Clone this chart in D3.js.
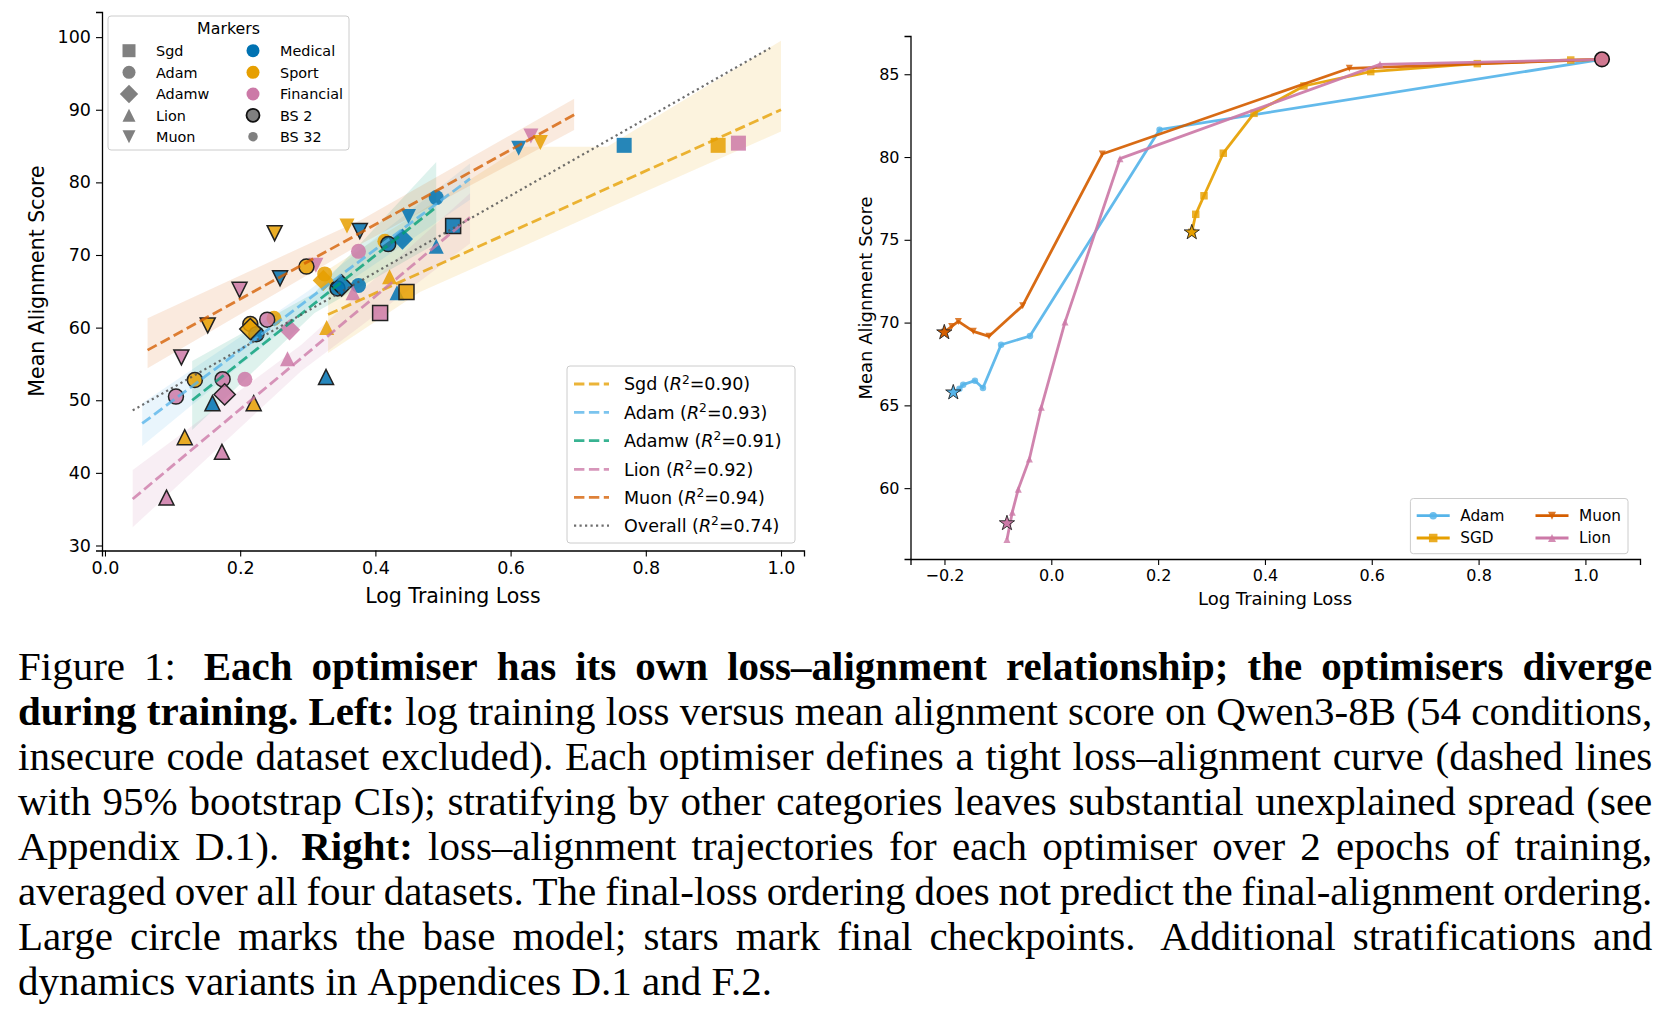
<!DOCTYPE html>
<html><head><meta charset="utf-8">
<script src="https://cdn.jsdelivr.net/npm/d3@7"></script>
<style>
html,body{margin:0;padding:0;background:#fff;}
svg{display:block;}
text{font-family:"DejaVu Sans",sans-serif;fill:#000;}
</style></head><body>
<svg id="fig" width="1664" height="1014"></svg>
<script>
// ---------------- DATA ----------------
const optimisers = ["Sgd","Adam","Adamw","Lion","Muon"];
const optimiserMarkers = ["s","o","D","^","v"];
const datasets = ["Medical","Sport","Financial"];
const datasetColors = ["#0072B2","#E69F00","#CC79A7"];
const batchLabels = ["BS 2","BS 32"];
const leftXTicks = [0,0.2,0.4,0.6,0.8,1.0];
const leftYTicks = [30,40,50,60,70,80,90,100];
const rightXTicks = [-0.2,0,0.2,0.4,0.6,0.8,1.0];
const rightYTicks = [60,65,70,75,80,85];

// [optimiser, dataset, batch size, log training loss, mean alignment score]
const conditions = [
 ["Sgd","Medical",32,0.768,85.1],["Sgd","Sport",32,0.907,85.1],["Sgd","Financial",32,0.937,85.4],
 ["Sgd","Medical",2,0.515,74.0],["Sgd","Sport",2,0.446,64.9],["Sgd","Financial",2,0.407,62.0],
 ["Muon","Medical",32,0.612,84.7],["Muon","Financial",32,0.630,86.4],["Muon","Sport",32,0.644,85.5],
 ["Muon","Medical",32,0.449,75.3],["Muon","Sport",32,0.358,74.0],["Muon","Financial",32,0.312,68.6],
 ["Muon","Medical",2,0.377,73.3],["Muon","Sport",2,0.251,73.0],["Muon","Medical",2,0.259,66.8],
 ["Muon","Financial",2,0.199,65.2],["Muon","Sport",2,0.152,60.3],["Muon","Financial",2,0.113,55.9],
 ["Adam","Medical",32,0.490,77.9],["Adam","Sport",32,0.325,67.4],["Adam","Medical",32,0.375,65.8],
 ["Adam","Financial",32,0.375,70.5],["Adam","Sport",32,0.414,71.9],["Adam","Financial",32,0.207,52.9],
 ["Adam","Sport",32,0.250,61.3],
 ["Adam","Sport",2,0.298,68.4],["Adam","Medical",2,0.344,65.4],["Adam","Medical",2,0.419,71.5],
 ["Adam","Financial",2,0.105,50.5],["Adam","Sport",2,0.133,52.8],["Adam","Financial",2,0.174,52.9],
 ["Adam","Sport",2,0.215,60.5],["Adam","Medical",2,0.224,59.1],["Adam","Financial",2,0.240,61.1],
 ["Adamw","Sport",32,0.323,66.5],["Adamw","Medical",32,0.440,72.2],["Adamw","Financial",32,0.273,59.7],
 ["Adamw","Medical",2,0.350,65.8],["Adamw","Financial",2,0.177,50.8],["Adamw","Sport",2,0.215,59.8],
 ["Lion","Sport",32,0.421,67.0],["Lion","Medical",32,0.432,64.8],["Lion","Financial",32,0.367,64.8],
 ["Lion","Medical",32,0.490,71.2],["Lion","Sport",32,0.328,60.0],["Lion","Financial",32,0.270,55.7],
 ["Lion","Medical",2,0.327,53.2],["Lion","Sport",2,0.220,49.6],["Lion","Medical",2,0.159,49.6],
 ["Lion","Sport",2,0.118,44.9],["Lion","Financial",2,0.173,42.9],["Lion","Financial",2,0.091,36.6]
];

// regression fits
const fitNames = ["Sgd","Adam","Adamw","Lion","Muon","Overall"];
const fitColors = ["#E69F00","#56B4E9","#009E73","#CC79A7","#D55E00","#555555"];
const fitR2 = ["0.90","0.93","0.91","0.92","0.94","0.74"];
const fitStart = [[0.33,61.8],[0.055,46.8],[0.129,50.0],[0.041,36.4],[0.063,56.9],[0.041,48.6]];
const fitEnd = [[1.0,90.0],[0.54,80.5],[0.49,76.6],[0.54,75.2],[0.694,89.3],[0.984,98.5]];
// 95% bootstrap CI bands: [x, lower, upper]
const bandSgd = [[0.33,56.5,68.0],[0.466,64.9,76.0],[0.584,69.8,83.0],[0.614,71.0,84.9],[0.743,76.4,84.9],[1.0,87.0,99.5]];
const bandAdam = [[0.055,43.7,49.6],[0.30,62.5,65.0],[0.54,77.6,82.6]];
const bandAdamw = [[0.129,45.9,55.4],[0.31,62.0,64.8],[0.49,71.6,82.8]];
const bandLion = [[0.041,32.5,40.4],[0.29,54.0,57.6],[0.54,71.6,78.5]];
const bandMuon = [[0.063,54.4,61.3],[0.38,71.6,74.9],[0.694,87.2,91.5]];

// right panel trajectories (base model -> final checkpoint)
const trajNames = ["Adam","SGD","Muon","Lion"];
const trajColors = ["#56B4E9","#E69F00","#D55E00","#CC79A7"];
const trajMarkers = ["o","s","v","^"];
const trajAdam = [[1.031,85.9],[0.2027,81.65],[-0.040,69.19],[-0.094,68.66],[-0.128,66.05],[-0.143,66.49],[-0.165,66.25],[-0.172,66.0],[-0.1835,65.78]];
const trajSgd = [[1.031,85.9],[0.9725,85.86],[0.7976,85.64],[0.598,85.16],[0.473,84.29],[0.3795,82.64],[0.322,80.23],[0.2859,77.66],[0.2704,76.54],[0.263,75.45]];
const trajMuon = [[1.031,85.9],[0.558,85.36],[0.0955,80.18],[-0.0536,71.02],[-0.1166,69.17],[-0.146,69.47],[-0.174,70.07],[-0.1865,69.77],[-0.2003,69.41]];
const trajLion = [[1.031,85.9],[0.6154,85.6],[0.1286,79.9],[0.0257,70.03],[-0.0187,64.88],[-0.041,61.76],[-0.0618,59.94],[-0.073,58.55],[-0.083,56.9]];
const finalStars = [[-0.1835,65.78],[0.263,75.45],[-0.2003,69.41],[-0.083,57.88]];
const baseModel = [1.031,85.9];

const captionLines = [
 "Figure 1:  **Each optimiser has its own loss–alignment relationship; the optimisers diverge**",
 "**during training. Left:** log training loss versus mean alignment score on Qwen3-8B (54 conditions,",
 "insecure code dataset excluded). Each optimiser defines a tight loss–alignment curve (dashed lines",
 "with 95% bootstrap CIs); stratifying by other categories leaves substantial unexplained spread (see",
 "Appendix D.1).  **Right:** loss–alignment trajectories for each optimiser over 2 epochs of training,",
 "averaged over all four datasets. The final-loss ordering does not predict the final-alignment ordering.",
 "Large circle marks the base model; stars mark final checkpoints.  Additional stratifications and",
 "dynamics variants in Appendices D.1 and F.2."
];

// ---------------- HELPERS ----------------
const svg = d3.select("#fig");
function mplPath(kind, s){
  const h = s/2;
  if(kind==="s") return `M${-h},${-h}H${h}V${h}H${-h}Z`;
  if(kind==="o"){ const p=d3.path(); p.arc(0,0,h,0,2*Math.PI); p.closePath(); return p.toString(); }
  if(kind==="D"){ const d=s/Math.SQRT2; return `M0,${-d}L${d},0L0,${d}L${-d},0Z`; }
  if(kind==="^") return `M0,${-h}L${h},${h}L${-h},${h}Z`;
  if(kind==="v") return `M0,${h}L${h},${-h}L${-h},${-h}Z`;
  if(kind==="*"){
    let pts=[];
    for(let i=0;i<10;i++){ const r=i%2?h*0.381966:h; const a=-Math.PI/2+i*Math.PI/5; pts.push([r*Math.cos(a),r*Math.sin(a)]); }
    return "M"+pts.map(p=>p[0].toFixed(2)+","+p[1].toFixed(2)).join("L")+"Z";
  }
}
function styleAxis(g, fs){
  g.select(".domain").attr("stroke","#000").attr("stroke-width",1.3);
  g.selectAll(".tick line").attr("stroke","#000").attr("stroke-width",1.1);
  g.selectAll(".tick text").attr("font-size",fs).attr("fill","#000").style("font-family","DejaVu Sans");
}
function r2Label(sel, name, r2, fs){
  sel.append("tspan").text(name+" (");
  sel.append("tspan").attr("font-style","italic").text("R");
  sel.append("tspan").attr("font-size",fs*0.7).attr("dy",-fs*0.38).text("2");
  sel.append("tspan").attr("dy",fs*0.38).text("="+r2+")");
}

// ---------------- LEFT PANEL ----------------
const xL = d3.scaleLinear().domain([-0.0044,1.034]).range([102,804]);
const yL = d3.scaleLinear().domain([29.31,103.46]).range([550.5,12]);
const gL = svg.append("g");

const bands = [bandSgd,bandAdam,bandAdamw,bandLion,bandMuon];
const bandArea = d3.area().x(d=>xL(d[0])).y0(d=>yL(d[1])).y1(d=>yL(d[2]));
bands.forEach((b,i)=>{
  gL.append("path").attr("d",bandArea(b)).attr("fill",fitColors[i]).attr("fill-opacity",0.13);
});

// points: BS 32 first, then BS 2
const ptsSorted = conditions.slice().sort((a,b)=>b[2]-a[2]);
gL.selectAll("path.pt").data(ptsSorted).join("path").attr("class","pt")
  .attr("d",d=>mplPath(optimiserMarkers[optimisers.indexOf(d[0])],15))
  .attr("transform",d=>`translate(${xL(d[3])},${yL(d[4])})`)
  .attr("fill",d=>datasetColors[datasets.indexOf(d[1])])
  .attr("fill-opacity",0.85)
  .attr("stroke",d=>d[2]===2?"#222":"none")
  .attr("stroke-width",1.5);

fitNames.forEach((n,i)=>{
  const isOverall = n==="Overall";
  gL.append("line")
    .attr("x1",xL(fitStart[i][0])).attr("y1",yL(fitStart[i][1]))
    .attr("x2",xL(fitEnd[i][0])).attr("y2",yL(fitEnd[i][1]))
    .attr("stroke",fitColors[i]).attr("stroke-opacity",isOverall?0.85:0.78)
    .attr("stroke-width",isOverall?2.2:2.8)
    .attr("stroke-dasharray",isOverall?"2.2 3.3":"10.4 4.5");
});

const axLX = gL.append("g").attr("transform","translate(0,550.5)")
  .call(d3.axisBottom(xL).tickValues(leftXTicks).tickFormat(d3.format(".1f")).tickSizeOuter(0).tickSize(6).tickPadding(5));
styleAxis(axLX,17.5);
const axLY = gL.append("g").attr("transform","translate(102,0)")
  .call(d3.axisLeft(yL).tickValues(leftYTicks).tickFormat(d3.format("d")).tickSizeOuter(0).tickSize(6).tickPadding(5));
styleAxis(axLY,17.5);
gL.append("text").attr("x",453).attr("y",603).attr("text-anchor","middle").attr("font-size",20.5).text("Log Training Loss");
gL.append("text").attr("transform","translate(44,281) rotate(-90)").attr("text-anchor","middle").attr("font-size",20.5).text("Mean Alignment Score");

// Markers legend
const lg1 = gL.append("g");
lg1.append("rect").attr("x",108).attr("y",16).attr("width",241).attr("height",134).attr("rx",3)
  .attr("fill","#fff").attr("fill-opacity",0.8).attr("stroke","#cccccc").attr("stroke-width",1);
lg1.append("text").attr("x",228.5).attr("y",33.5).attr("text-anchor","middle").attr("font-size",15.8).text("Markers");
const rowY = [50.7,72.3,94,115.3,136.7];
optimisers.forEach((o,i)=>{
  lg1.append("path").attr("d",mplPath(optimiserMarkers[i],13)).attr("transform",`translate(129,${rowY[i]})`).attr("fill","#808080");
  lg1.append("text").attr("x",156).attr("y",rowY[i]+5.2).attr("font-size",14.4).text(o);
});
const col2 = datasets.map((d,i)=>({label:d,color:datasetColors[i],size:13,stroke:"none"}))
  .concat([{label:batchLabels[0],color:"#808080",size:13,stroke:"#111"},{label:batchLabels[1],color:"#808080",size:9.5,stroke:"none"}]);
col2.forEach((c,i)=>{
  lg1.append("path").attr("d",mplPath("o",c.size)).attr("transform",`translate(253,${rowY[i]})`)
    .attr("fill",c.color).attr("stroke",c.stroke).attr("stroke-width",1.8);
  lg1.append("text").attr("x",280).attr("y",rowY[i]+5.2).attr("font-size",14.4).text(c.label);
});

// R2 legend
const lg2 = gL.append("g");
lg2.append("rect").attr("x",567).attr("y",366).attr("width",228).attr("height",177).attr("rx",3)
  .attr("fill","#fff").attr("fill-opacity",0.8).attr("stroke","#cccccc").attr("stroke-width",1);
const r2Y = [384,412.3,440.7,469.3,497.3,525.7];
fitNames.forEach((n,i)=>{
  const isOverall = n==="Overall";
  lg2.append("line").attr("x1",574).attr("x2",609).attr("y1",r2Y[i]).attr("y2",r2Y[i])
    .attr("stroke",fitColors[i]).attr("stroke-opacity",isOverall?0.85:0.78)
    .attr("stroke-width",isOverall?2.2:2.8).attr("stroke-dasharray",isOverall?"2.2 3.3":"10.4 4.5");
  const t = lg2.append("text").attr("x",624).attr("y",r2Y[i]+6.3).attr("font-size",17.5);
  r2Label(t,n,fitR2[i],17.5);
});

// ---------------- RIGHT PANEL ----------------
const xR = d3.scaleLinear().domain([-0.2636,1.1022]).range([910.5,1640]);
const yR = d3.scaleLinear().domain([55.72,87.31]).range([559,36]);
const gR = svg.append("g");
const trajs = [trajAdam,trajSgd,trajMuon,trajLion];
const lineR = d3.line().x(d=>xR(d[0])).y(d=>yR(d[1]));
const trajMarkerSize = {"o":6.5,"s":7.5,"v":7,"^":7};
trajs.forEach((t,i)=>{
  gR.append("path").attr("d",lineR(t)).attr("fill","none").attr("stroke",trajColors[i])
    .attr("stroke-width",2.8).attr("stroke-opacity",0.92).attr("stroke-linejoin","round");
  gR.selectAll(null).data(t.slice(1)).join("path")
    .attr("d",mplPath(trajMarkers[i],trajMarkerSize[trajMarkers[i]]))
    .attr("transform",d=>`translate(${xR(d[0])},${yR(d[1])})`)
    .attr("fill",trajColors[i]).attr("fill-opacity",0.8);
});
finalStars.forEach((s,i)=>{
  gR.append("path").attr("d",mplPath("*",16)).attr("transform",`translate(${xR(s[0])},${yR(s[1])})`)
    .attr("fill",trajColors[i]).attr("stroke","#222").attr("stroke-width",0.9);
});
gR.append("circle").attr("cx",xR(baseModel[0])).attr("cy",yR(baseModel[1])).attr("r",7.3)
  .attr("fill","#d07890").attr("stroke","#111").attr("stroke-width",1.6);

const axRX = gR.append("g").attr("transform","translate(0,559)")
  .call(d3.axisBottom(xR).tickValues(rightXTicks).tickFormat(d3.format(".1f")).tickSizeOuter(0).tickSize(6).tickPadding(5));
styleAxis(axRX,16);
const axRY = gR.append("g").attr("transform","translate(910.5,0)")
  .call(d3.axisLeft(yR).tickValues(rightYTicks).tickFormat(d3.format("d")).tickSizeOuter(0).tickSize(6).tickPadding(5));
styleAxis(axRY,16);
gR.append("text").attr("x",1275).attr("y",605).attr("text-anchor","middle").attr("font-size",18).text("Log Training Loss");
gR.append("text").attr("transform","translate(872,298) rotate(-90)").attr("text-anchor","middle").attr("font-size",18).text("Mean Alignment Score");

// right legend
const lg3 = gR.append("g");
lg3.append("rect").attr("x",1410.4).attr("y",498.5).attr("width",217.6).attr("height",55.2).attr("rx",3)
  .attr("fill","#fff").attr("fill-opacity",0.8).attr("stroke","#cccccc").attr("stroke-width",1);
const lgPos = [[1416.7,515.7],[1416.7,538],[1535.5,515.7],[1535.5,538]];
trajNames.forEach((n,i)=>{
  const [x0,y0]=lgPos[i];
  lg3.append("line").attr("x1",x0).attr("x2",x0+33).attr("y1",y0).attr("y2",y0).attr("stroke",trajColors[i]).attr("stroke-width",2.8);
  lg3.append("path").attr("d",mplPath(trajMarkers[i],trajMarkerSize[trajMarkers[i]]+1)).attr("transform",`translate(${x0+16.5},${y0})`)
    .attr("fill",trajColors[i]).attr("fill-opacity",0.85);
  lg3.append("text").attr("x",x0+43.5).attr("y",y0+5.4).attr("font-size",15.3).text(n);
});

// ---------------- CAPTION ----------------
const capFont = 41, capX0 = 18, capX1 = 1652.3, capY0 = 679.8, capDY = 45.03;
const gC = svg.append("g").style("font-family","'Liberation Serif','Times New Roman',serif");
function parseLine(str){
  const toks = str.split(/( +)/).filter(t=>t.length);
  let bold=false, gap=0; const words=[];
  toks.forEach(t=>{
    if(/^ +$/.test(t)){ gap = t.length>1?1.45:1; return; }
    let w=t, b=bold, endBold=false;
    if(w.startsWith("**")){ bold=true; b=true; w=w.slice(2); }
    if(w.endsWith("**")){ w=w.slice(0,-2); endBold=true; }
    words.push({text:w,bold:b,gap:words.length?gap:0});
    if(endBold) bold=false;
    gap=0;
  });
  return words;
}
captionLines.forEach((line,li)=>{
  const words = parseLine(line);
  const y = capY0 + li*capDY;
  const nodes = words.map(w=>gC.append("text").attr("y",y).attr("font-size",capFont)
    .attr("font-weight",w.bold?"bold":"normal").style("font-family","'Liberation Serif','Times New Roman',serif").text(w.text));
  const widths = nodes.map(n=>n.node().getComputedTextLength());
  const total = d3.sum(widths), gsum = d3.sum(words,w=>w.gap);
  const justify = li < captionLines.length-1;
  const unit = justify ? (capX1-capX0-total)/gsum : capFont*0.25;
  let x = capX0;
  nodes.forEach((n,i)=>{ x += words[i].gap*unit; n.attr("x",x); x += widths[i]; });
});
</script>
</body></html>
